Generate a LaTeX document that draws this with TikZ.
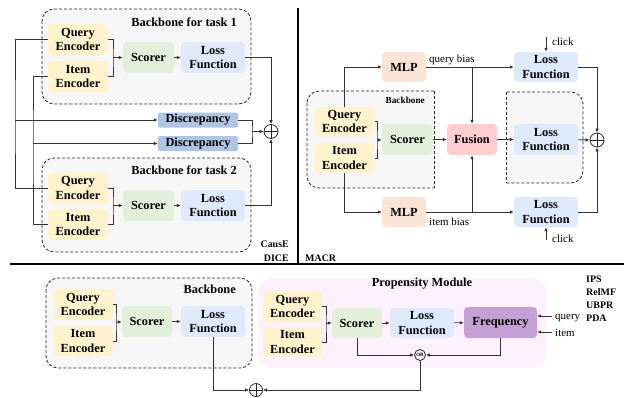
\documentclass[tikz,border=0pt]{standalone}
\usepackage{fontspec}
\setmainfont{Liberation Serif}
\usetikzlibrary{positioning,arrows.meta}
\definecolor{encfill}{RGB}{255,242,204}
\definecolor{scorefill}{RGB}{226,239,218}
\definecolor{lossfill}{RGB}{222,234,252}
\definecolor{discfill}{RGB}{176,196,228}
\definecolor{mlpfill}{RGB}{251,228,214}
\definecolor{fusefill}{RGB}{255,204,208}
\definecolor{freqfill}{RGB}{196,160,212}
\definecolor{propfill}{RGB}{253,241,253}
\definecolor{bbfill}{RGB}{246,246,246}
\newcommand{\diagfont}{\bfseries\fontsize{12.4}{14.5}\selectfont}
\newcommand{\tagfont}{\bfseries\fontsize{10}{13}\selectfont}
\newcommand{\notefont}{\fontsize{11}{13}\selectfont}
\tikzset{
  wire/.style={draw=black!80, line width=0.8bp},
  flowarrow/.style={wire, -{Latex[length=4bp,width=3.6bp]}},
  blk/.style={rounded corners=4bp, inner sep=0pt, align=center, minimum height=31bp, font=\diagfont},
  encnode/.style={blk, fill=encfill, minimum width=60bp},
  scorenode/.style={blk, fill=scorefill, minimum width=51bp},
  lossnode/.style={blk, fill=lossfill, minimum width=64bp},
  mlpnode/.style={blk, fill=mlpfill, minimum width=44bp},
  fusenode/.style={blk, fill=fusefill, minimum width=50bp},
  freqnode/.style={blk, fill=freqfill, minimum width=73bp},
  discnode/.style={blk, fill=discfill, minimum width=80bp, minimum height=15bp, rounded corners=2bp},
  dashbox/.style={draw=black!85, line width=0.8bp, dash pattern=on 3bp off 2bp, fill=bbfill},
  plusnode/.style={circle, draw=black!85, line width=0.8bp, minimum size=14bp, inner sep=0pt,
    path picture={\draw[black!85, line width=0.8bp]
      (path picture bounding box.north) -- (path picture bounding box.south)
      (path picture bounding box.west) -- (path picture bounding box.east);}},
  ornode/.style={circle, draw=black!85, line width=0.8bp, minimum size=11bp, inner sep=0pt,
    font=\bfseries\fontsize{5}{5}\selectfont},
  titlelabel/.style={font=\diagfont, inner sep=0pt},
  taglabel/.style={font=\tagfont, inner sep=0pt},
  notelabel/.style={font=\notefont, inner sep=0pt}
}

\begin{document}
\begin{tikzpicture}[x=1bp, y=-1bp, >=Latex]
  \useasboundingbox (0,0) rectangle (624,397);

  % separators between the three panels
  \draw[line width=1.6bp] (298,8) -- (298,264);
  \draw[line width=1.6bp] (10,264) -- (624,264);

  % ---- CausE / DICE ----
  \draw[dashbox, rounded corners=12bp] (42,9) rectangle (251,104);
  \draw[dashbox, rounded corners=12bp] (42,158) rectangle (251,252);
  \node[titlelabel, anchor=east] (bbt1) at (237,22) {Backbone for task 1};
  \node[titlelabel, anchor=east] (bbt2) at (237,170) {Backbone for task 2};

  \node[encnode] (qe1) at (78,39.5) {Query\\Encoder};
  \node[encnode] (ie1) at (78,76.5) {Item\\Encoder};
  \node[scorenode] (sc1) at (148.5,57.5) {Scorer};
  \node[lossnode] (lf1) at (213,57.5) {Loss\\Function};
  \node[encnode] (qe2) at (78,188) {Query\\Encoder};
  \node[encnode] (ie2) at (78,224.5) {Item\\Encoder};
  \node[scorenode] (sc2) at (148.5,205.5) {Scorer};
  \node[lossnode] (lf2) at (213,205.5) {Loss\\Function};
  \node[discnode] (dc1) at (198,120) {Discrepancy};
  \node[discnode] (dc2) at (198,143.5) {Discrepancy};
  \node[plusnode] (pl1) at (271,131.5) {};

  \coordinate (br1) at (113,57.5);
  \coordinate (br2) at (113,205.5);
  \coordinate (jq) at (15,120);
  \coordinate (ji) at (33,143.5);
  \coordinate (jd) at (252,131.5);

  \draw[wire] (qe1.east) -| (br1) |- (ie1.east);
  \draw[flowarrow] (br1) -- (sc1);
  \draw[flowarrow] (sc1) -- (lf1);
  \draw[wire] (qe2.east) -| (br2) |- (ie2.east);
  \draw[flowarrow] (br2) -- (sc2);
  \draw[flowarrow] (sc2) -- (lf2);
  \draw[wire] (qe1.west) -| (jq) |- (qe2.west);
  \draw[flowarrow] (jq) -- (dc1);
  \draw[wire] (ie1.west) -| (ji) |- (ie2.west);
  \draw[flowarrow] (ji) -- (dc2);
  \draw[wire] (dc1.east) -| (jd) |- (dc2.east);
  \draw[flowarrow] (jd) -- (pl1);
  \draw[flowarrow] (lf1.east) -| (pl1.north);
  \draw[flowarrow] (lf2.east) -| (pl1.south);

  \node[taglabel, anchor=base east] (tcause) at (289,247) {CausE};
  \node[taglabel, anchor=base east] (tdice) at (289,261) {DICE};

  % ---- MACR ----
  % backbone frame, rounded on the left only
  \begin{scope}
    \clip (300,80) rectangle (434,200);
    \draw[dashbox, rounded corners=12bp] (307,91) rectangle (460,188);
  \end{scope}
  \draw[dashbox, fill=none] (434,91) -- (434,188);
  % loss frame, rounded on the right only
  \begin{scope}
    \clip (506,80) rectangle (600,200);
    \draw[dashbox, rounded corners=12bp] (480,92) rectangle (583,183);
  \end{scope}
  \draw[dashbox, fill=none] (506,92) -- (506,183);
  \node[titlelabel, anchor=east, font=\bfseries\fontsize{9.3}{11}\selectfont] (bbtm) at (425,100.5) {Backbone};

  \node[encnode, minimum height=29bp] (qem) at (344.5,121.5) {Query\\Encoder};
  \node[encnode, minimum height=30bp] (iem) at (344.5,158) {Item\\Encoder};
  \node[scorenode] (scm) at (407.5,139.5) {Scorer};
  \node[fusenode] (fus) at (472,139.5) {Fusion};
  \node[lossnode] (lfm) at (546,139.5) {Loss\\Function};
  \node[mlpnode, minimum height=30bp] (mlp1) at (404,67) {MLP};
  \node[lossnode, minimum height=30bp] (lfq) at (546,67) {Loss\\Function};
  \node[mlpnode, minimum height=30bp] (mlp2) at (404,212) {MLP};
  \node[lossnode, minimum height=30bp] (lfi) at (546,212) {Loss\\Function};
  \node[plusnode] (pl2) at (597,140) {};

  \coordinate (brm) at (377,140);
  \coordinate (ck1) at (546,37);
  \coordinate (ck2) at (546,240);

  \draw[wire] (qem.east) -| (brm) |- (iem.east);
  \draw[flowarrow] (brm) -- (scm);
  \draw[flowarrow] (scm) -- (fus);
  \draw[flowarrow] (fus) -- (lfm);
  \draw[flowarrow] (lfm) -- (pl2);
  \draw[flowarrow] (qem.north) |- (mlp1.west);
  \draw[flowarrow] (iem.south) |- (mlp2.west);
  \draw[flowarrow] (mlp1.east) -- (lfq.west);
  \draw[flowarrow] (mlp2.east) -- (lfi.west);
  \draw[flowarrow] (fus.north |- mlp1.east) -- (fus.north);
  \draw[flowarrow] (fus.south |- mlp2.east) -- (fus.south);
  \draw[flowarrow] (lfq.east) -| (pl2.north);
  \draw[flowarrow] (lfi.east) -| (pl2.south);
  \draw[flowarrow] (ck1) -- (lfq.north);
  \draw[flowarrow] (ck2) -- (lfi.south);

  \node[notelabel, anchor=base west] (qbias) at (429,62) {query bias};
  \node[notelabel, anchor=base west] (ibias) at (429,225.5) {item bias};
  \node[notelabel, anchor=base west] (click1) at (552,45) {click};
  \node[notelabel, anchor=base west] (click2) at (552,242) {click};
  \node[taglabel, anchor=base west] (tmacr) at (305,261) {MACR};

  % ---- IPS / RelMF / UBPR / PDA ----
  \draw[dashbox, rounded corners=12bp] (46,278) rectangle (252,368);
  \fill[propfill, rounded corners=14bp] (258,278) rectangle (546,368);
  \node[titlelabel, anchor=east] (bbt3) at (236,289) {Backbone};
  \node[titlelabel] (pmt) at (422,284) {Propensity Module};

  \node[encnode] (qe3) at (83,304.5) {Query\\Encoder};
  \node[encnode, minimum height=30bp] (ie3) at (83,341) {Item\\Encoder};
  \node[scorenode, minimum width=50bp] (sc3) at (147,321.5) {Scorer};
  \node[lossnode] (lf3) at (213,321.5) {Loss\\Function};

  \node[encnode, minimum width=59bp] (qe4) at (292.5,306.5) {Query\\Encoder};
  \node[encnode, minimum width=59bp, minimum height=30bp] (ie4) at (292.5,342) {Item\\Encoder};
  \node[scorenode, minimum width=50bp, minimum height=30bp] (sc4) at (357,323) {Scorer};
  \node[lossnode, minimum height=30bp] (lf4) at (422,323) {Loss\\Function};
  \node[freqnode] (fq) at (500.5,322.5) {Frequency};
  \node[ornode] (orn) at (420,355) {OR};
  \node[plusnode, minimum size=13bp] (pl3) at (256,390) {};

  \coordinate (br3) at (116,322);
  \coordinate (br4) at (326,323);
  \coordinate (qin) at (552,316);
  \coordinate (iin) at (552,332);

  \draw[wire] (qe3.east) -| (br3) |- (ie3.east);
  \draw[flowarrow] (br3) -- (sc3);
  \draw[flowarrow] (sc3) -- (lf3);
  \draw[wire] (qe4.east) -| (br4) |- (ie4.east);
  \draw[flowarrow] (br4) -- (sc4);
  \draw[flowarrow] (sc4) -- (lf4);
  \draw[flowarrow] (lf4) -- (fq);
  \draw[flowarrow] (qin) -- (fq.east |- qin);
  \draw[flowarrow] (iin) -- (fq.east |- iin);
  \draw[flowarrow] (sc4.south) |- (orn);
  \draw[flowarrow] (fq.south) |- (orn);
  \draw[flowarrow] (orn.south) |- (pl3);
  \draw[flowarrow] (lf3.south) |- (pl3);

  \node[notelabel, anchor=base west] (tq) at (555,319.5) {query};
  \node[notelabel, anchor=base west] (ti) at (555,336.5) {item};
  \node[taglabel, anchor=base west] (tips) at (586,282) {IPS};
  \node[taglabel, anchor=base west] (trel) at (586,295) {RelMF};
  \node[taglabel, anchor=base west] (tubpr) at (586,308) {UBPR};
  \node[taglabel, anchor=base west] (tpda) at (586,321) {PDA};
\end{tikzpicture}
\end{document}
